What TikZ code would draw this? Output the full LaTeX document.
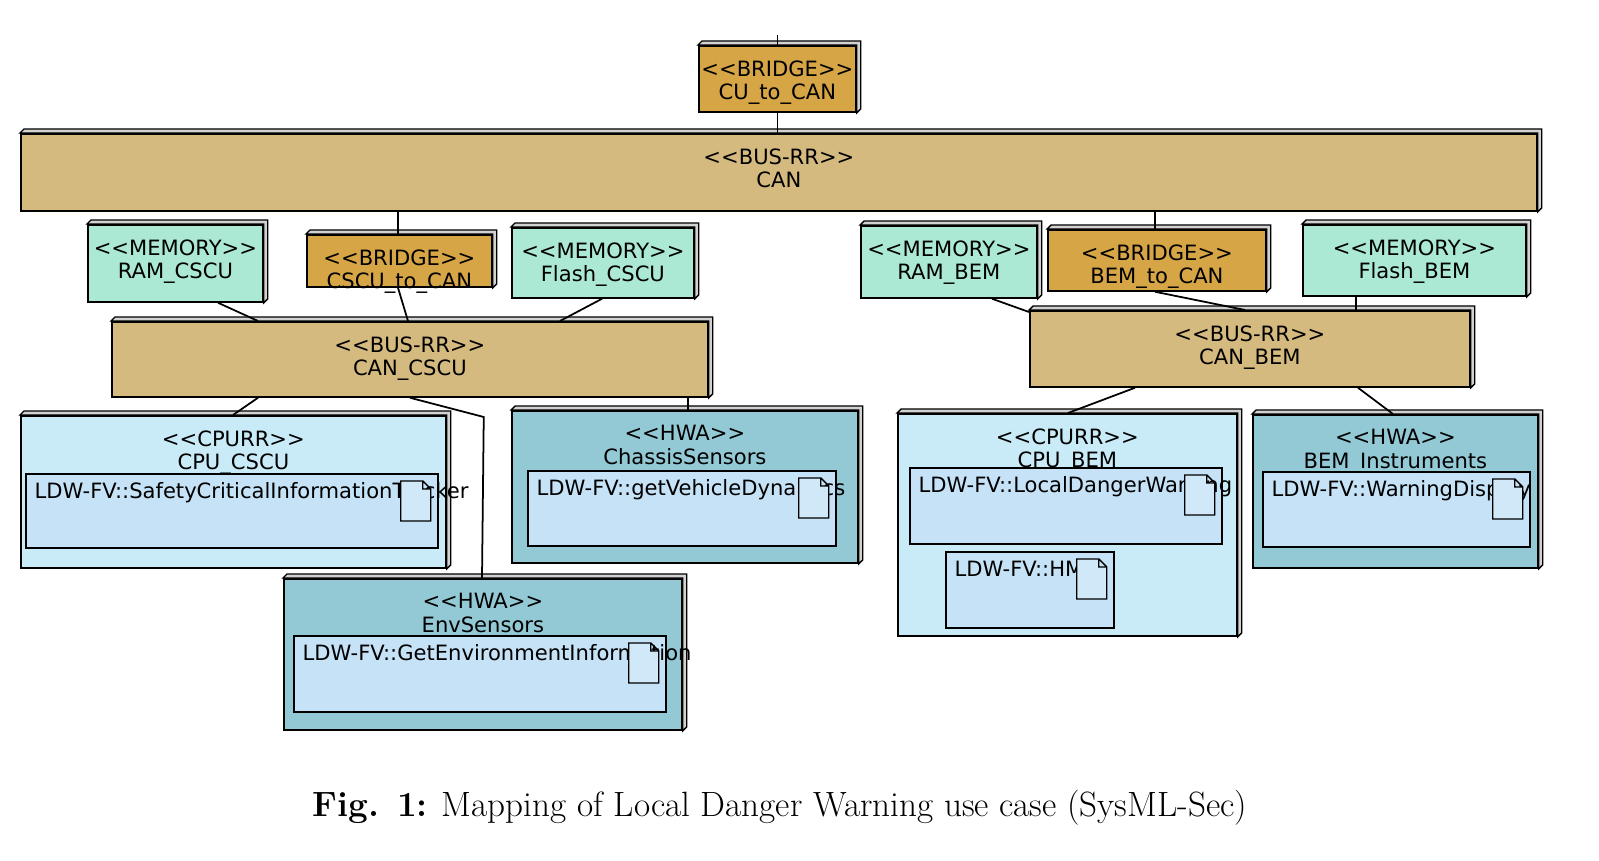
\documentclass[tikz,border=0pt]{standalone}
\usepackage{fontspec}
\newfontfamily\dejavu{DejaVu Sans}
\usetikzlibrary{calc}

\definecolor{bridgeC}{HTML}{D6A546}
\definecolor{busC}{HTML}{D5BA80}
\definecolor{memC}{HTML}{ABE9D4}
\definecolor{cpuC}{HTML}{C9EBF8}
\definecolor{hwaC}{HTML}{93C9D5}
\definecolor{artC}{HTML}{C6E2F6}

% box from pixel corners: name, x1, y1, x2, y2, style, text
\newcommand\hwbox[7]{%
  \node[#6, minimum width={(#4-#2)*0.02cm}, minimum height={(#5-#3)*0.02cm},
        label={[anchor=north, yshift=-5pt, align=center, font=\dejavu\fontsize{12}{13.5}\selectfont]north:{#7}}]
        (#1) at (#2,#3) {};}
% artifact inside a box, with its page icon
\newcommand\artbox[6]{%
  \node[art, minimum width={(#4-#2)*0.02cm}, minimum height={(#5-#3)*0.02cm},
        label={[anchor=north west, inner sep=5pt, font=\dejavu\fontsize{12}{13.5}\selectfont]north west:{#6}}]
        (#1) at (#2,#3) {};
  \draw[line width=0.8pt, fill=white!20!artC] ($(#1.north east)+(-38,8)$) -- ++(22,0) -- ++(8,8) -- ++(0,32) -- ++(-30,0) -- cycle
        ($(#1.north east)+(-16,8)$) -- ++(0,8) -- ++(8,0);}

\begin{document}
\begin{tikzpicture}[x=0.02cm, y=-0.02cm,
    every path/.style={line width=1pt},
    blk/.style={draw, anchor=north west, inner sep=0pt},
    bridge/.style={blk, fill=bridgeC},
    bus/.style={blk, fill=busC},
    mem/.style={blk, fill=memC},
    cpu/.style={blk, fill=cpuC},
    hwa/.style={blk, fill=hwaC},
    art/.style={blk, fill=artC}
  ]
  \useasboundingbox (0,0) rectangle (1599,861);

  % Nodes
  \hwbox{cutocan}{698}{45}{855}{111}{bridge}{<{}<BRIDGE>{}>\\CU\_to\_CAN}
  \hwbox{can}{20}{133}{1536}{210}{bus}{<{}<BUS-RR>{}>\\CAN}

  \hwbox{ramcscu}{87}{224}{262}{301}{mem}{<{}<MEMORY>{}>\\RAM\_CSCU}
  \hwbox{cscutocan}{306}{234}{491}{286}{bridge}{<{}<BRIDGE>{}>\\CSCU\_to\_CAN}
  \hwbox{flashcscu}{511}{227}{693}{297}{mem}{<{}<MEMORY>{}>\\Flash\_CSCU}
  \hwbox{rambem}{860}{225}{1036}{297}{mem}{<{}<MEMORY>{}>\\RAM\_BEM}
  \hwbox{bemtocan}{1047}{229}{1265}{290}{bridge}{<{}<BRIDGE>{}>\\BEM\_to\_CAN}
  \hwbox{flashbem}{1302}{224}{1525}{295}{mem}{<{}<MEMORY>{}>\\Flash\_BEM}

  \hwbox{cancscu}{111}{321}{707}{396}{bus}{<{}<BUS-RR>{}>\\CAN\_CSCU}
  \hwbox{canbem}{1029}{310}{1469}{386}{bus}{<{}<BUS-RR>{}>\\CAN\_BEM}

  \hwbox{cpucscu}{20}{415}{445}{567}{cpu}{<{}<CPURR>{}>\\CPU\_CSCU}
  \hwbox{chassis}{511}{410}{857}{562}{hwa}{<{}<HWA>{}>\\ChassisSensors}
  \hwbox{env}{283}{578}{681}{729}{hwa}{<{}<HWA>{}>\\EnvSensors}
  \hwbox{cpubem}{897}{413}{1236}{635}{cpu}{<{}<CPURR>{}>\\CPU\_BEM}
  \hwbox{instr}{1252}{414}{1537}{567}{hwa}{<{}<HWA>{}>\\BEM\_Instruments}

  % 3D edges
  \foreach \n in {cutocan,can,ramcscu,cscutocan,flashcscu,rambem,bemtocan,flashbem,
                  cancscu,canbem,cpucscu,chassis,env,cpubem,instr}
    \draw[line width=0.8pt, fill=gray!35] (\n.north west) -- ++(4,-4) -| ($(\n.south east)+(4,-4)$)
      -- (\n.south east) -- (\n.north east) -- cycle;

  % Artifacts
  \artbox{tracker}{25}{473}{437}{547}{LDW-FV::SafetyCriticalInformationTracker}
  \artbox{dynamics}{527}{470}{835}{545}{LDW-FV::getVehicleDynamics}
  \artbox{envinfo}{293}{635}{665}{711}{LDW-FV::GetEnvironmentInformation}
  \artbox{ldw}{909}{467}{1221}{543}{LDW-FV::LocalDangerWarning}
  \artbox{hmi}{945}{551}{1113}{627}{LDW-FV::HMI}
  \artbox{display}{1262}{471}{1529}{546}{LDW-FV::WarningDisplay}

  % Links
  \coordinate (top) at ($(cutocan.north)+(0,-10)$);
  \draw (top) -- (cutocan.north);
  \draw (cutocan.south) -- (cutocan.south |- can.north);
  \draw ($(can.south west)+(378,0)$) -- (cscutocan.north -| {$(can.south west)+(378,0)$});
  \draw ($(can.south west)+(1135,0)$) -- ($(bemtocan.north west)+(108,0)$);
  \draw ($(ramcscu.south west)+(131,0)$) -- ($(cancscu.north west)+(147,0)$);
  \draw ($(cscutocan.south west)+(92,0)$) -- ($(cancscu.north west)+(297,0)$);
  \draw ($(flashcscu.south west)+(91,0)$) -- ($(cancscu.north west)+(449,0)$);
  \draw ($(rambem.south west)+(132,0)$) -- ($(canbem.north west)+(0,2)$);
  \draw ($(bemtocan.south west)+(108,0)$) -- ($(canbem.north west)+(216,0)$);
  \draw ($(flashbem.south west)+(54,0)$) -- ($(canbem.north west)+(327,0)$);
  \draw ($(cancscu.south west)+(147,0)$) -- ($(cpucscu.north west)+(213,0)$);
  \draw ($(cancscu.south west)+(299,0)$) -- ($(cpucscu.north east)+(37,2)$) -- ($(env.north west)+(199,0)$);
  \draw ($(cancscu.south west)+(577,0)$) -- ($(chassis.north west)+(177,0)$);
  \draw ($(canbem.south west)+(106,0)$) -- ($(cpubem.north west)+(171,0)$);
  \draw ($(canbem.south west)+(329,0)$) -- ($(instr.north west)+(141,0)$);

  % Caption
  \node[font=\fontsize{20}{24}\selectfont] (caption) at (780,808)
    {\textbf{Fig. 1:} Mapping of Local Danger Warning use case (SysML-Sec)};
\end{tikzpicture}
\end{document}
